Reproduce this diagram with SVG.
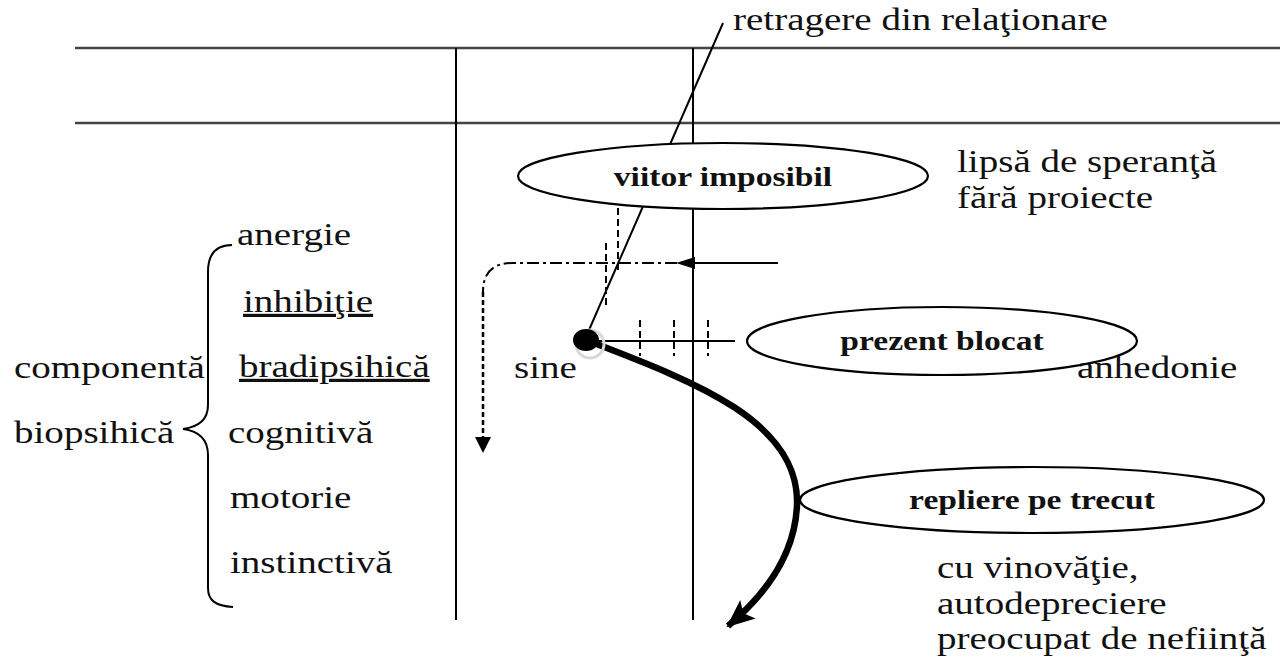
<svg xmlns="http://www.w3.org/2000/svg" width="1280" height="658" viewBox="0 0 1280 658">
<style>
.t{font-family:"Liberation Serif","Times New Roman",serif;font-size:32px;fill:#111}
.b{font-family:"Liberation Serif","Times New Roman",serif;font-weight:bold;font-size:27.5px;fill:#111;text-anchor:middle}
.u{text-decoration:underline}
.grid{stroke:#444;stroke-width:2.5;fill:none}
.ln{stroke:#000;stroke-width:2;fill:none}
.node{fill:#fff;stroke:#000;stroke-width:2.2}
.tick{stroke:#000;stroke-width:2;stroke-dasharray:7 4;fill:none}
</style>
<defs>
<marker id="headThick" markerUnits="userSpaceOnUse" markerWidth="30" markerHeight="26" refX="26" refY="12" orient="auto">
<path d="M0,0 L28,12 L0,24 L6,12 Z" fill="#000"/>
</marker>
</defs>
<rect width="1280" height="658" fill="#fff"/>

<g id="grid">
<line class="grid" x1="75" y1="48" x2="1280" y2="48"/>
<line class="grid" x1="75" y1="123" x2="1280" y2="123"/>
<line class="ln" x1="456" y1="48" x2="456" y2="620"/>
<line class="ln" x1="693" y1="48" x2="693" y2="620"/>
</g>

<g id="connectors">
<line class="ln" x1="723" y1="23" x2="589" y2="330"/>
<line class="tick" x1="618" y1="208" x2="618" y2="273"/>
<line class="tick" x1="606" y1="243" x2="606" y2="308"/>
<path d="M677,263 L512,263 Q483,263 483,292" fill="none" stroke="#000" stroke-width="2" stroke-dasharray="12 4 3 4"/>
<path d="M483,292 L483,438" fill="none" stroke="#000" stroke-width="2.5" stroke-dasharray="5 3"/>
<path d="M483,453 L475,437 L491,437 Z" fill="#000"/>
<line class="ln" x1="693" y1="263" x2="778" y2="263"/>
<path d="M676,263 L695,257 L695,269 Z" fill="#000"/>
<line class="ln" x1="586" y1="341" x2="735" y2="341"/>
<line class="tick" x1="640" y1="320" x2="640" y2="356"/>
<line class="tick" x1="674" y1="320" x2="674" y2="356"/>
<line class="tick" x1="708" y1="320" x2="708" y2="356"/>
<path d="M586,340 C690,380 800,420 797,505 C795,555 765,595 728,626" fill="none" stroke="#000" stroke-width="6.5" marker-end="url(#headThick)"/>
<path d="M232,245 C215,245 208,255 208,272 L208,405 C208,420 198,427 183,429 C198,431 208,438 208,455 L208,588 C208,600 215,606 233,607" fill="none" stroke="#000" stroke-width="2"/>
</g>

<g id="dot">
<circle cx="590" cy="344" r="14" fill="none" stroke="#d8d8d8" stroke-width="3"/>
<ellipse cx="586" cy="340" rx="13" ry="11" fill="#000"/>
</g>

<g id="viitor">
<ellipse class="node" cx="723" cy="176" rx="205" ry="33"/>
<text class="b" transform="translate(723,186) scale(1.22,1)">viitor imposibil</text>
</g>
<g id="prezent">
<ellipse class="node" cx="942" cy="341" rx="195" ry="34"/>
<text class="b" transform="translate(942,350) scale(1.22,1)">prezent blocat</text>
</g>
<g id="repliere">
<ellipse class="node" cx="1032" cy="500" rx="232" ry="33"/>
<text class="b" transform="translate(1032,509) scale(1.22,1)">repliere pe trecut</text>
</g>

<g id="labels">
<text class="t" transform="translate(733,30) scale(1.22,1)">retragere din relaţionare</text>
<text class="t" transform="translate(957,172) scale(1.22,1)">lipsă de speranţă</text>
<text class="t" transform="translate(957,208) scale(1.22,1)">fără proiecte</text>
<text class="t" transform="translate(1077,378) scale(1.22,1)">anhedonie</text>
<text class="t" transform="translate(514,378) scale(1.22,1)">sine</text>
<text class="t" transform="translate(937,578) scale(1.22,1)">cu vinovăţie,</text>
<text class="t" transform="translate(937,614) scale(1.22,1)">autodepreciere</text>
<text class="t" transform="translate(937,649) scale(1.22,1)">preocupat de nefiinţă</text>
</g>

<g id="componenta">
<text class="t" transform="translate(14,378) scale(1.22,1)">componentă</text>
<text class="t" transform="translate(14,443) scale(1.22,1)">biopsihică</text>
</g>
<g id="items">
<text class="t" transform="translate(237,245) scale(1.22,1)">anergie</text>
<text class="t u" transform="translate(243,312) scale(1.22,1)">inhibiţie</text>
<text class="t u" transform="translate(239,377) scale(1.22,1)">bradipsihică</text>
<text class="t" transform="translate(228,443) scale(1.22,1)">cognitivă</text>
<text class="t" transform="translate(230,508) scale(1.22,1)">motorie</text>
<text class="t" transform="translate(230,573) scale(1.22,1)">instinctivă</text>
</g>
</svg>
